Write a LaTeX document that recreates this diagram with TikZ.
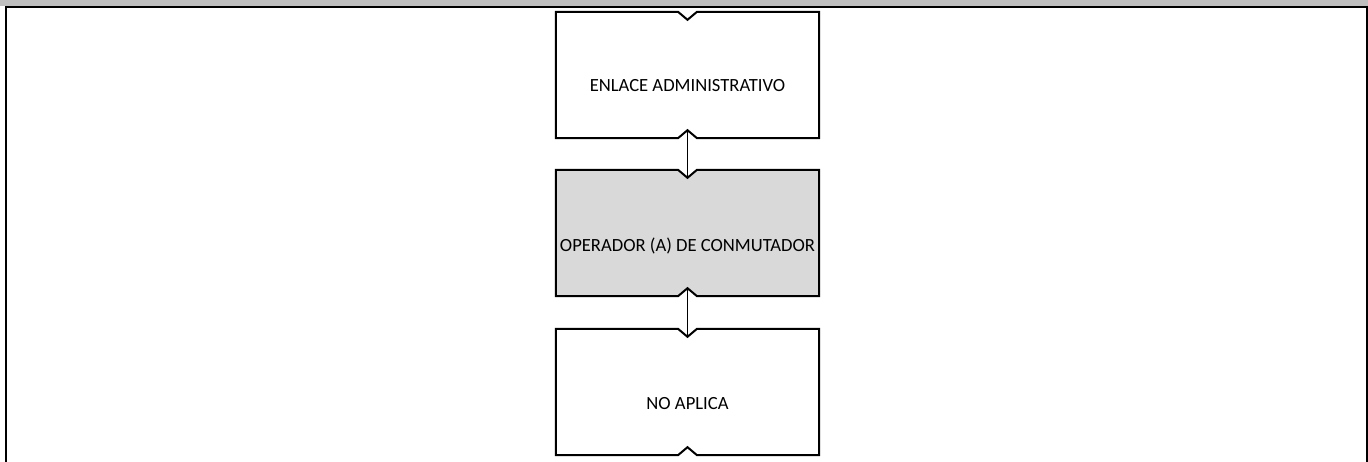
\documentclass[tikz,border=0pt]{standalone}
\usepackage{fontspec}
\setmainfont{Carlito}
\usetikzlibrary{calc}
\definecolor{bandgray}{RGB}{191,191,191}
\definecolor{boxgray}{RGB}{217,217,217}
\tikzset{
  boxnode/.style={rectangle, minimum width=263pt, minimum height=126pt, inner sep=0pt,
    font=\fontsize{18.6}{20}\selectfont, text height=34pt, text depth=0pt},
  boxline/.style={draw=black, line width=2pt, line join=miter},
  conn/.style={draw=black, line width=1pt},
  frameline/.style={draw=black, line width=2pt}
}
\newcommand{\notchoutline}[2]{%
  \path[boxline,fill=#2] (#1.north west) -- ($(#1.north)+(-9.5,0)$) -- ($(#1.north)+(0,8)$) -- ($(#1.north)+(9.5,0)$) -- (#1.north east) -- (#1.south east) -- ($(#1.south)+(9.5,0)$) -- ($(#1.south)+(0,-8)$) -- ($(#1.south)+(-9.5,0)$) -- (#1.south west) -- cycle;}
\begin{document}
\begin{tikzpicture}[x=1pt,y=-1pt]
\useasboundingbox (0,0) rectangle (1368,462);
\fill[bandgray] (0,0) rectangle (1368,6);
\coordinate (tl) at (5,7);
\coordinate (tr) at (1368,7);
\coordinate (bl) at (6,462);
\coordinate (br) at (1367,462);
\draw[frameline] (tl) -- (tr);
\draw[frameline] (6,6) -- (bl);
\draw[frameline] (1367,6) -- (br);
\node[boxnode] (b1) at (687.5,75) {};
\node[boxnode] (b2) at (687.5,233) {};
\node[boxnode] (b3) at (687.5,392) {};
\notchoutline{b1}{white}
\notchoutline{b2}{boxgray}
\notchoutline{b3}{white}
\node[boxnode] (t1) at (b1.center) {ENLACE ADMINISTRATIVO};
\node[boxnode] (t2) at ($(b2.center)+(0,2)$) {OPERADOR (A) DE CONMUTADOR};
\node[boxnode] (t3) at (b3.center) {NO APLICA};
\draw[conn] ($(b1.south)+(0,-8)$) -- ($(b2.north)+(0,8)$);
\draw[conn] ($(b2.south)+(0,-8)$) -- ($(b3.north)+(0,8)$);
\end{tikzpicture}
\end{document}
